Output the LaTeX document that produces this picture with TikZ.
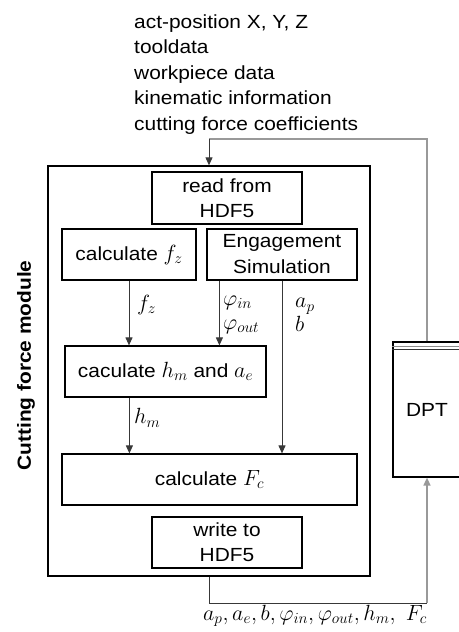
\RequirePackage{fix-cm}
\documentclass[tikz,border=0pt]{standalone}
\usepackage{fontspec}
\setmainfont{Liberation Sans}[FakeStretch=1.1]
\usetikzlibrary{arrows.meta,calc}
\newcommand\mth[1]{{\fontsize{22}{25}\selectfont$#1$}}
\tikzset{
  box/.style={draw=black, line width=1.2pt, inner sep=0pt, align=center},
  conn/.style={draw=black!78, line width=1pt},
  fb/.style={draw=black!40, line width=1.5pt},
  tip/.style={-{Triangle[length=8pt,width=7pt]}},
  lab/.style={anchor=west, inner sep=1pt, align=left}
}
\begin{document}
\begin{tikzpicture}[x=1pt,y=-1pt,font=\fontsize{19}{25}\selectfont]
\useasboundingbox (0,0) rectangle (458,632);
% top input list
\node[anchor=base west, inner sep=0pt, align=left, font=\fontsize{19}{25.5}\selectfont] (inputs) at (134,130)
  {act-position X, Y, Z\\tooldata\\workpiece data\\kinematic information\\cutting force coefficients};
% module frame
\node[box, line width=1.3pt, minimum width=322pt, minimum height=410pt] (outer) at (209,371) {};
\node[rotate=90, font=\fontsize{19}{23}\bfseries] (title) at (26,365.5) {Cutting force module};
% boxes
\node[box, minimum width=150pt, minimum height=52pt] (read) at (227,198) {read from\\HDF5};
\node[box, minimum width=134pt, minimum height=51pt] (fz) at (129,254.5) {calculate \mth{f_z}};
\node[box, minimum width=150pt, minimum height=51pt, font=\fontsize{19}{26}\selectfont] (eng) at (282,254.5) {Engagement\\Simulation};
\node[box, minimum width=201pt, minimum height=51pt] (hm) at (165.5,371.5) {caculate \mth{h_m} and \mth{a_e}};
\node[box, minimum width=295pt, minimum height=51pt] (Fc) at (209.5,479.5) {calculate \mth{F_c}};
\node[box, minimum width=150pt, minimum height=51pt] (write) at (227,542.5) {write to\\HDF5};
% DPT
\node[box, minimum width=68pt, minimum height=135pt] (dpt) at (427,409.5) {DPT};
\draw[draw=black!45, line width=0.9pt] ($(dpt.north west)+(0,5)$) -- ($(dpt.north east)+(0,5)$);
\draw[draw=black!80, line width=0.9pt] ($(dpt.north west)+(0,8.5)$) -- ($(dpt.north east)+(0,8.5)$);
% internal connectors
\coordinate (phi) at ($(eng.south west)+(13,0)$);
\coordinate (hmo) at ($(hm.south west)+(65,0)$);
\draw[conn, tip] (fz.south) -- (fz.south |- hm.north);
\draw[conn, tip] (phi) -- (phi |- hm.north);
\draw[conn, tip] (eng.south) -- (eng.south |- Fc.north);
\draw[conn, tip] (hmo) -- (hmo |- Fc.north);
% labels
\node[lab] (lfz) at (136,305) {\mth{f_z}};
\node[lab, font=\fontsize{22}{24}\selectfont] (lphi) at (222,315) {$\varphi_{in}$\\$\varphi_{out}$};
\node[lab, font=\fontsize{22}{24}\selectfont] (lap) at (294,315) {$a_p$\\$b$};
\node[lab] (lhm) at (133,418) {\mth{h_m}};
% feedback loop
\coordinate (topin) at (209,139);
\coordinate (botout) at (427,603);
\draw[fb] (dpt.north) |- (topin);
\draw[conn, tip] (topin) -- (outer.north);
\draw[conn] (outer.south) |- (botout);
\draw[fb, tip] (botout) -- (dpt.south);
\node[anchor=base, inner sep=0pt, font=\fontsize{22}{25}\selectfont] (outlab) at (315,620) {$a_p, a_e, b, \varphi_{in}, \varphi_{out}, h_m,\ F_c$};
\end{tikzpicture}
\end{document}
